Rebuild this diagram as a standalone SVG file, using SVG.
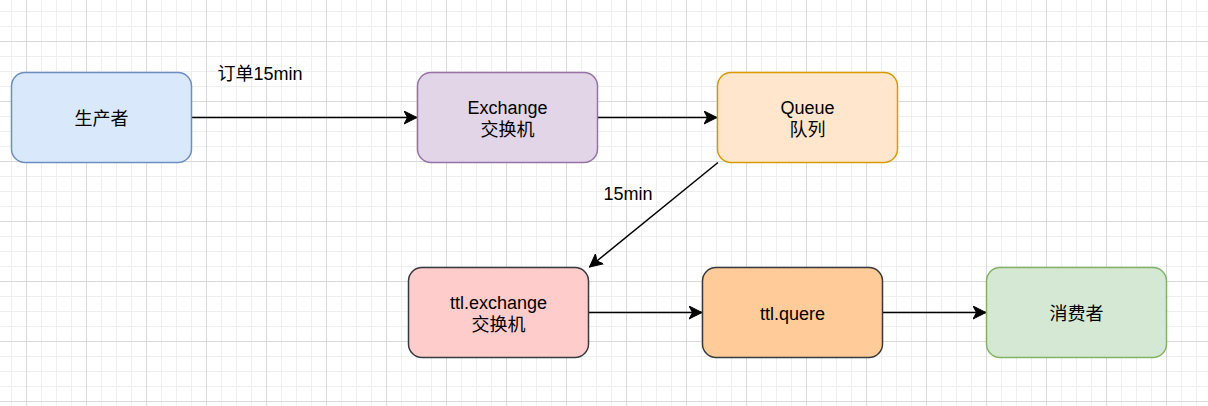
<svg xmlns="http://www.w3.org/2000/svg" width="1208" height="406" viewBox="0 0 1208 406">
  <style>
    .node rect { stroke-width: 1.5; }
    text { font-family: "Liberation Sans", "Noto Sans CJK SC", sans-serif; font-size: 18px; fill: #000000; text-anchor: middle; }
    .edge { stroke: #000000; stroke-width: 1.5; fill: none; marker-end: url(#arrow); }
  </style>
  <defs>
    <pattern id="grid" patternUnits="userSpaceOnUse" x="26" y="41" width="60" height="60">
      <path d="M15.5 0V60M30.5 0V60M45.5 0V60M0 15.5H60M0 30.5H60M0 45.5H60" stroke="#efefef" stroke-width="1" fill="none"/>
      <path d="M0.5 0V60M0 0.5H60" stroke="#d9d9d9" stroke-width="1" fill="none"/>
    </pattern>
    <marker id="arrow" markerUnits="userSpaceOnUse" viewBox="0 0 14 14" refX="13" refY="7" markerWidth="14" markerHeight="14" orient="auto">
      <path d="M0 0.5 L13 7 L0 13.5 L3.5 7 Z" fill="#000000" stroke="#000000" stroke-width="1"/>
    </marker>
  </defs>
  <rect width="1208" height="406" fill="#ffffff"/>
  <rect width="1208" height="406" fill="url(#grid)"/>

  <g id="connectors">
    <path class="edge" d="M191.5 117.5 H417"/>
    <path class="edge" d="M597.5 117.5 H717"/>
    <path class="edge" d="M718 162.5 L589.5 267"/>
    <path class="edge" d="M588.5 312.5 H702"/>
    <path class="edge" d="M882.5 312.5 H986"/>
    <text x="260" y="80">订单15min</text>
    <text x="628" y="200">15min</text>
  </g>

  <g id="producer" class="node">
    <rect x="11.5" y="72.5" width="180" height="90" rx="13.5" fill="#dae8fc" stroke="#6c8ebf"/>
    <text x="101.5" y="124.5">生产者</text>
  </g>
  <g id="exchange" class="node">
    <rect x="417.5" y="72.5" width="180" height="90" rx="13.5" fill="#e1d5e7" stroke="#9673a6"/>
    <text x="507.5" y="114">Exchange</text>
    <text x="507.5" y="135.5">交换机</text>
  </g>
  <g id="queue" class="node">
    <rect x="717.5" y="72.5" width="180" height="90" rx="13.5" fill="#ffe6cc" stroke="#d79b00"/>
    <text x="807.5" y="114">Queue</text>
    <text x="807.5" y="135.5">队列</text>
  </g>
  <g id="ttl-exchange" class="node">
    <rect x="408.5" y="267.5" width="180" height="90" rx="13.5" fill="#ffcccc" stroke="#36393d"/>
    <text x="498.5" y="309">ttl.exchange</text>
    <text x="498.5" y="330.5">交换机</text>
  </g>
  <g id="ttl-quere" class="node">
    <rect x="702.5" y="267.5" width="180" height="90" rx="13.5" fill="#ffcc99" stroke="#36393d"/>
    <text x="792.5" y="319.5">ttl.quere</text>
  </g>
  <g id="consumer" class="node">
    <rect x="986.5" y="267.5" width="180" height="90" rx="13.5" fill="#d5e8d4" stroke="#82b366"/>
    <text x="1076.5" y="319.5">消费者</text>
  </g>
</svg>
